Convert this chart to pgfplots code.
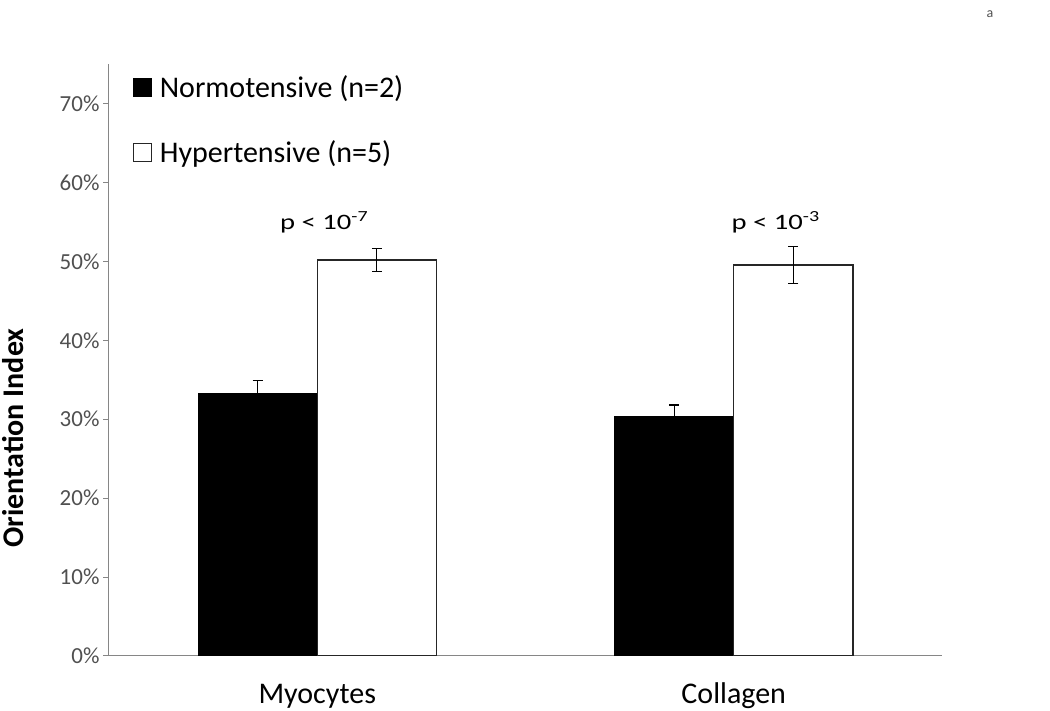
\documentclass[border=0pt]{standalone}
\usepackage{pgfplots}
\pgfplotsset{compat=1.18}
\usepackage{fontspec}
\setmainfont{Carlito}
\definecolor{axgray}{HTML}{868686}
\definecolor{txtgray}{HTML}{505050}
\begin{document}
\begin{tikzpicture}[x=1pt,y=1pt]
\useasboundingbox (0,0) rectangle (1050,711);
\node[font=\fontsize{14}{16}\selectfont, text=txtgray, anchor=base] at (990,693) {a};
\begin{axis}[
  at={(109pt,55pt)}, anchor=south west,
  scale only axis, width=833pt, height=592pt,
  xmin=-0.5, xmax=1.5, ymin=0, ymax=75,
  axis x line*=bottom, axis y line*=left,
  axis line style={axgray, line width=1pt, -},
  tick align=outside,
  major tick length=6pt,
  xtick={0,1}, xticklabels={Myocytes, Collagen},
  x tick style={draw=none},
  extra x ticks={-0.5,0.5,1.5}, extra x tick labels={},
  extra x tick style={major tick length=12pt, tick style={draw=axgray, line width=1pt}},
  ytick={0,10,20,30,40,50,60,70},
  yticklabels={0\%,10\%,20\%,30\%,40\%,50\%,60\%,70\%},
  y tick style={draw=axgray, line width=1pt},
  yticklabel style={font=\fontsize{23}{26}\selectfont, text=txtgray},
  xticklabel style={font=\fontsize{30}{36}\selectfont, anchor=base, inner sep=0pt, yshift=-42pt},
  ylabel={Orientation Index},
  ylabel style={at={(axis description cs:-0.115,0.368)}, anchor=center, font=\fontsize{30}{36}\selectfont\bfseries},
  ybar, bar width=0.286,
  legend style={at={(0.028,0.985)}, anchor=north west, draw=none, fill=none,
    font=\fontsize{30}{36}\selectfont, row sep=38pt, inner sep=0pt},
  legend cell align=left,
  legend image code/.code={\draw[#1] (0pt,-9pt) rectangle (18pt,9pt); \path (24pt,0pt);},
]
\addplot[fill=black, draw=black, bar shift=-0.143,
  error bars/.cd, y dir=both, y explicit,
  error bar style={line width=1.2pt, black},
  error mark options={rotate=90, mark size=5pt, line width=1.2pt, black}]
  coordinates {(0,33.3) +- (0,1.6) (1,30.4) +- (0,1.4)};
\addlegendentry{Normotensive (n=2)}
\addplot[fill=white, draw=black!85, line width=1.3pt, bar shift=0.143,
  error bars/.cd, y dir=both, y explicit,
  error bar style={line width=1.2pt, black},
  error mark options={rotate=90, mark size=5pt, line width=1.2pt, black}]
  coordinates {(0,50.15) +- (0,1.45) (1,49.55) +- (0,2.35)};
\addlegendentry{Hypertensive (n=5)}
\node[anchor=base west, transform shape, xscale=1.3, font=\fontsize{22}{26}\selectfont] at (axis cs:-0.1,54.05) {p < 10\textsuperscript{-7}};
\node[anchor=base west, transform shape, xscale=1.3, font=\fontsize{22}{26}\selectfont] at (axis cs:0.984,54.05) {p < 10\textsuperscript{-3}};
\end{axis}
\end{tikzpicture}
\end{document}
